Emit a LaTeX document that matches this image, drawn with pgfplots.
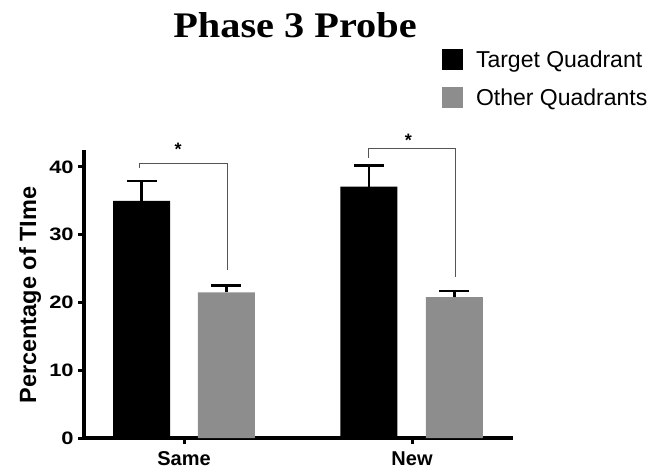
\documentclass[border=0pt]{standalone}
\usepackage{pgfplots}
\pgfplotsset{compat=1.18}
\usepackage{fontspec}
\setmainfont{Liberation Sans}
\newfontfamily\titlefont{Liberation Serif}
\definecolor{othergray}{RGB}{141,141,141}
\definecolor{brk}{RGB}{85,85,85}
\begin{document}
\begin{tikzpicture}
\path[use as bounding box] (0pt,0pt) rectangle (665pt,-475pt);
\node[anchor=base, xscale=1.12, font=\titlefont\bfseries\fontsize{36}{36}\selectfont] at (295pt,-37pt) {Phase 3 Probe};
\begin{axis}[
  at={(84pt,-438pt)}, anchor=south west,
  scale only axis, width=427pt, height=286pt,
  xmin=-0.4386, xmax=1.434, ymin=0, ymax=42.2,
  axis lines=left,
  axis line style={-, line width=4.5pt, line cap=rect},
  xtick={0,1}, xticklabels={Same,New},
  ytick={0,10,20,30,40},
  tick align=outside,
  major tick length=6pt,
  tick style={line width=3pt, black},
  /pgf/number format/assume math mode=true,
  yticklabel style={font=\bfseries\fontsize{18}{18}\selectfont, xscale=1.22},
  xticklabel style={font=\bfseries\fontsize{20}{20}\selectfont, yshift=-4pt},
  ylabel={Percentage of TIme},
  ylabel style={at={(axis description cs:-0.1265,0.5)}, anchor=center, font=\bfseries\fontsize{23.5}{23.5}\selectfont},
  clip=false,
  legend style={draw=none, fill=none, at={(axis description cs:0.838,1.36)}, anchor=north west,
    inner sep=0pt, row sep=17pt, font=\fontsize{23}{23}\selectfont,
    nodes={inner sep=1pt, anchor=west},
    /tikz/every odd column/.append style={column sep=12pt}},
  legend cell align=left,
  legend image code/.code={\fill[#1, draw=none] (0pt,-10.5pt) rectangle (21pt,10.5pt);},
]
\addplot[ybar, bar width=0.25, bar shift=0pt, fill=black, draw=none,
  error bars/.cd, y dir=plus, y explicit,
  error bar style={line width=2.5pt, black},
  error mark options={rotate=90, line width=2.5pt, black, mark size=15pt}]
  coordinates {(-0.186,35.0) +- (0,2.9) (0.811,37.1) +- (0,3.1)};
\addlegendentry{Target Quadrant}
\addplot[ybar, bar width=0.25, bar shift=0pt, fill=othergray, draw=none,
  error bars/.cd, y dir=plus, y explicit,
  error bar style={line width=2.5pt, black},
  error mark options={rotate=90, line width=2.5pt, black, mark size=15pt}]
  coordinates {(0.186,21.5) +- (0,1.0) (1.186,20.8) +- (0,0.9)};
\addlegendentry{Other Quadrants}
\addplot[sharp plot, mark=none, draw=brk, line width=0.9pt, forget plot]
  coordinates {(-0.197,39.8) (-0.197,40.5) (0.189,40.5) (0.189,24.8)};
\addplot[sharp plot, mark=none, draw=brk, line width=0.9pt, forget plot]
  coordinates {(0.811,41.3) (0.811,42.7) (1.189,42.7) (1.189,23.8)};
\node[font=\bfseries\fontsize{18}{18}\selectfont] at (axis cs:-0.026,42.6) {*};
\node[font=\bfseries\fontsize{18}{18}\selectfont] at (axis cs:0.984,44.0) {*};
\end{axis}
\end{tikzpicture}
\end{document}
